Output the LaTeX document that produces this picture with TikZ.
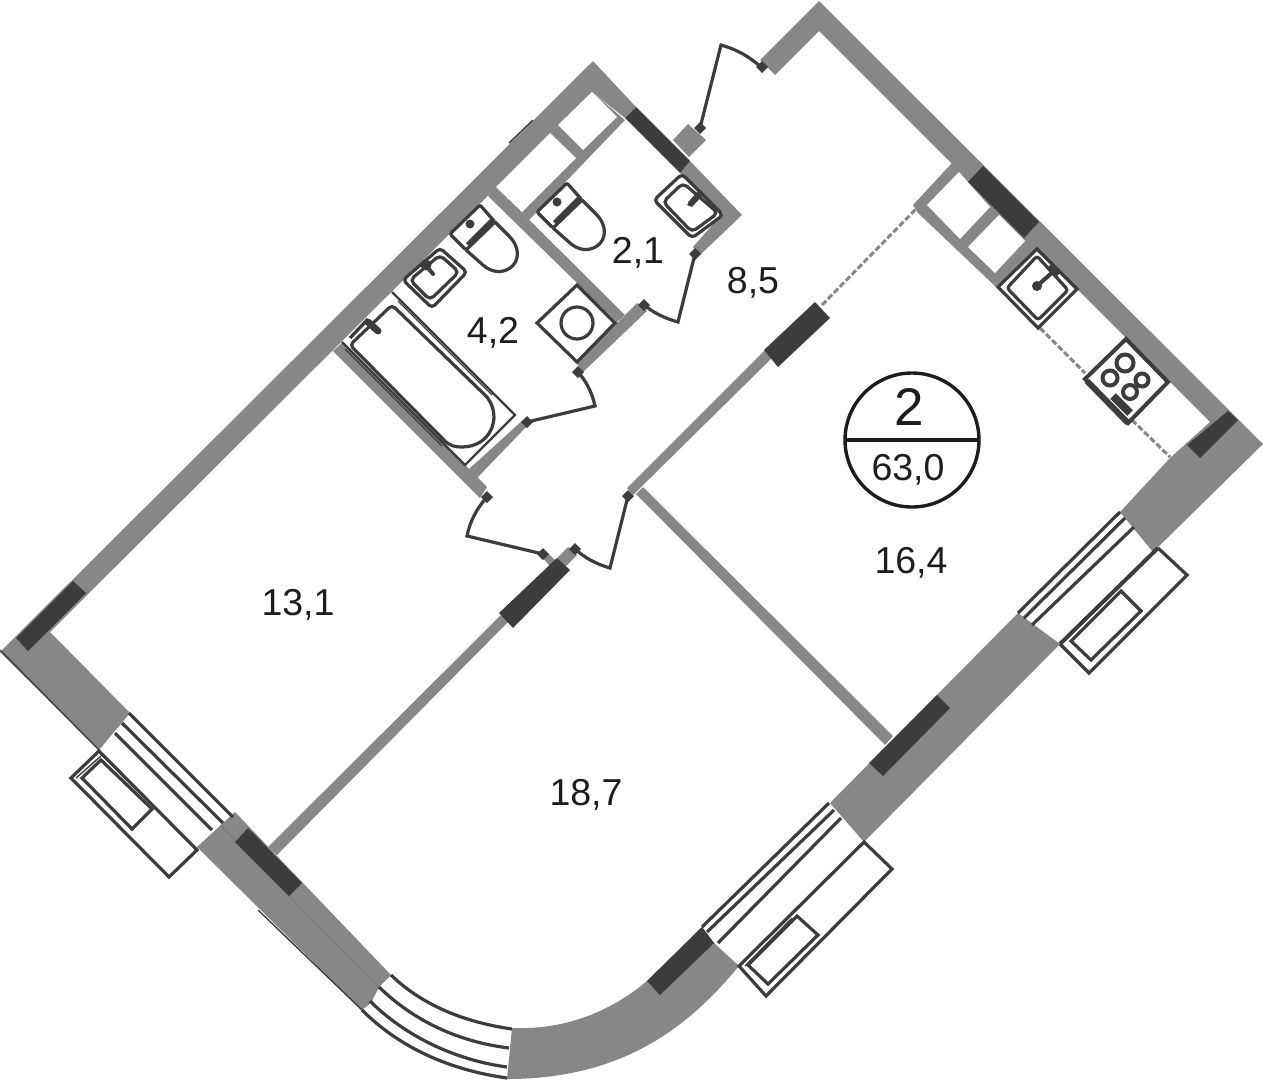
\documentclass[tikz,border=0pt]{standalone}
\usepackage{fontspec}
\setmainfont{Liberation Sans}
\usepackage{tikz}
\definecolor{wallgray}{HTML}{878786}
\definecolor{pillargray}{HTML}{3C3C3B}
\definecolor{inkblack}{HTML}{1D1D1B}
\tikzset{
	wall/.style={fill=wallgray},
	pillar/.style={fill=pillargray},
	hole/.style={fill=white},
	fixture/.style={draw=pillargray, line width=3.2pt, line join=miter},
	hairline/.style={draw=pillargray, line width=1.4pt},
	dashwall/.style={draw=wallgray, line width=3pt, dash pattern=on 6pt off 2.5pt},
	arealabel/.style={text=inkblack, anchor=base, inner sep=0pt, font=\fontsize{37.5}{40}\selectfont}
}

\begin{document}
\begin{tikzpicture}[x=1pt, y=-1pt]
		\useasboundingbox (0,0) rectangle (1263,1080);
		
		% Draw outer walls
		\fill[wall] (760,60) -- (819,1) -- (1263,444) -- (1153,552) -- (1120,512) -- (1170,458) -- (1210,422) -- (819,31) -- (775,75) -- cycle;
		\fill[wall] (0,652) -- (593,61) -- (636,107) -- (625,118) -- (592,92) -- (50,632) -- (130,713) -- (99,750) -- cycle;
		\fill[wall] (1018,613) -- (830,803) -- (864,842) -- (1060,644) -- cycle;
		\fill[wall] (714,943) -- (739,966) .. controls (690,1025) and (625,1079) .. (507,1079) -- (512,1028) .. controls (565,1030) and (610,1012) .. (647,981) -- (702,927) -- cycle;
		\fill[wall] (197,847) -- (235,812) -- (391,975) -- (379,987) -- (371,1003) -- (362,1010) -- cycle;
		\draw[draw=pillargray!25!wallgray, line width=0.6pt] (220,825) -- (378,987);
		\draw[hairline] (0,650) -- (99,750);
		\draw[hairline] (258,910) -- (362,1010);
		\draw[hairline] (509,143) -- (533,120);
		
		% Draw inner walls
		\fill[wall] (496,187) -- (592,92) -- (625,120) -- (529,220) -- cycle;
		\fill[wall] (488,196) -- (496,187) -- (625,315) -- (617,322) -- cycle;
		\fill[wall] (333,351) -- (343,342) -- (487,487) -- (480,498) -- cycle;
		\fill[wall] (468,470) -- (523,420) -- (528,425) -- (477,478) -- cycle;
		\fill[wall] (577,363) -- (637,303) -- (647,311) -- (582,373) -- cycle;
		\fill[wall] (690,161) -- (742,215) -- (700,255) -- (693,247) -- (723,213) -- (680,173) -- cycle;
		\fill[wall] (688,124) -- (706,140) -- (689,157) -- (673,140) -- cycle;
		\fill[wall] (627,488) -- (772,343) -- (782,348) -- (633,495) -- cycle;
		\fill[wall] (643,487) -- (893,736) -- (885,745) -- (636,494) -- cycle;
		\fill[wall] (505,611) -- (268,847) -- (277,855) -- (515,615) -- cycle;
		\fill[wall] (543,558) -- (548,553) -- (560,565) -- (553,570) -- cycle;
		\fill[wall] (557,558) -- (568,547) -- (577,555) -- (565,567) -- cycle;
		\fill[wall] (952,163) -- (913,205) -- (918,213) -- (997,288) -- (1000,288) -- (1040,250) -- (1028,238) -- cycle;
		
		% Shafts
		\fill[hole] (496,187) -- (550,133) -- (576,158) -- (522,212) -- cycle;
		\fill[hole] (558,125) -- (592,92) -- (617,117) -- (583,150) -- cycle;
		\fill[hole] (959,172) -- (990,207) -- (960,239) -- (927,205) -- cycle;
		\fill[hole] (999,215) -- (1025,241) -- (995,273) -- (968,247) -- cycle;
		
		% Draw load bearing pillars
		\fill[pillar] (636,107) -- (690,161) -- (680,173) -- (625,118) -- cycle;
		\fill[pillar] (983,166) -- (1039,222) -- (1024,238) -- (968,182) -- cycle;
		\fill[pillar] (1228,411) -- (1238,420) -- (1200,458) -- (1187,445) -- cycle;
		\fill[pillar] (937,695) -- (950,708) -- (883,776) -- (869,763) -- cycle;
		\fill[pillar] (702,927) -- (714,943) -- (660,995) -- (647,981) -- cycle;
		\fill[pillar] (248,828) -- (302,883) -- (289,896) -- (235,842) -- cycle;
		\fill[pillar] (73,581) -- (86,593) -- (28,651) -- (16,638) -- cycle;
		\fill[pillar] (557,558) -- (570,570) -- (513,628) -- (499,613) -- cycle;
		\fill[pillar] (815,302) -- (830,318) -- (778,367) -- (764,350) -- cycle;
		
		% Add dashed openings
		\draw[dashwall] (822,305) -- (917,208);
		\draw[dashwall] (1040,328) -- (1085,373);
		\draw[dashwall] (1132,420) -- (1170,457);
		
		% Draw doors
		\draw[fixture] (700,128) -- (721,45) .. controls (738,50) and (750,57) .. (762,68);
		\draw[fixture] (695,254) -- (678,322) .. controls (664,318) and (654,313) .. (644,305);
		\draw[fixture] (578,372) .. controls (586,381) and (592,392) .. (595,406) -- (527,422);
		\draw[fixture] (487,497) .. controls (477,508) and (470,521) .. (467,536) -- (543,554);
		\draw[fixture] (575,549) .. controls (585,558) and (596,564) .. (610,568) -- (628,496);
		\foreach \x/\y in {700/128,762/67,695/254,644/305,578/372,527/422,487/497,543/554,575/549,628/496}
		\fill[pillar, shift={(\x,\y)}] (-6,0) -- (0,-6) -- (6,0) -- (0,6) -- cycle;
		
		% Draw windows
		\draw[fixture] (1120,512) -- (1018,613);
		\draw[fixture] (1125,518) -- (1024,618);
		\draw[fixture] (1134,527) -- (1032,625);
		\draw[fixture] (829,803) -- (702,927);
		\draw[fixture] (834,810) -- (707,932);
		\draw[fixture] (841,818) -- (718,943);
		\draw[fixture] (129,713) -- (233,817);
		\draw[fixture] (122,723) -- (223,823);
		\draw[fixture] (115,733) -- (212,830);
		\draw[fixture] (391,975) .. controls (425,1008) and (470,1023) .. (512,1029);
		\draw[fixture] (379,987) .. controls (415,1022) and (460,1042) .. (509,1048);
		\draw[fixture] (370,1001) .. controls (405,1036) and (455,1060) .. (507,1067);
		\draw[fixture] (362,1010) .. controls (400,1048) and (450,1070) .. (507,1078);
		
		% Draw balconies
		\draw[fixture] (1158,548) -- (1187,575) -- (1089,673) -- (1060,644);
		\draw[fixture, line width=4pt] (1158,548) -- (1060,644);
		\draw[fixture] (1121,591) -- (1141,611) -- (1091,660) -- (1071,641) -- cycle;
		\draw[fixture] (864,842) -- (892,869) -- (766,996) -- (739,966) -- cycle;
		\draw[fixture] (797,916) -- (818,935) -- (768,984) -- (748,965) -- cycle;
		\draw[hairline] (792,918) -- (745,966);
		\draw[fixture] (99,751) -- (71,778) -- (169,877) -- (197,850) -- cycle;
		\draw[fixture] (101,760) -- (82,778) -- (132,829) -- (152,809) -- cycle;
		\draw[hairline] (101,756) -- (76,778);
		\draw[hairline] (101,754) -- (150,803);
		
		% Draw bath
		\draw[hairline, line width=2.4pt] (392,292) -- (515,415) -- (465,465) -- (342,342);
		\draw[fixture] (443,439) [rounded corners=4pt] -- (350,345) -- (392,305) [sharp corners] -- (487,397) .. controls (503,418) and (490,447) .. (462,447) .. controls (455,447) and (449,446) .. (443,439);
		\draw[hairline] (398,301) -- (492,395);
		\draw[hairline] (345,349) -- (442,446);
		\draw[pillargray, line width=7pt, line cap=round] (368,322) -- (378,331);
		\draw[pillargray, line width=3.4pt] (368,319) -- (350,338);
		
		% Draw toilets
		\foreach \dx/\dy in {0/0,-87/22}
		{
			\begin{scope}[shift={(\dx,\dy)}]
				\draw[fixture, rounded corners=2pt] (567,183) -- (537,212) -- (553,228) -- (582,200) -- cycle;
				\draw[fixture] (582,200) -- (596,214) .. controls (608,226) and (606,240) .. (597,246) .. controls (588,252) and (578,250) .. (570,243) -- (553,228);
				\draw[pillargray, line width=5.5pt] (580,198) -- (555,223);
				\fill[pillar] (557,202) circle (4.5pt);
			\end{scope}
		}
		
		% Draw sinks
		\draw[fixture, rounded corners=4pt] (682,174) -- (723,215) -- (692,238) -- (654,200) -- cycle;
		\draw[fixture, rounded corners=5pt] (683,183) -- (718,213) -- (692,232) -- (663,202) -- cycle;
		\draw[pillargray, line width=4pt, line cap=round] (700,192) -- (690,203);
		\fill[pillar] (690,201) -- (700,190) -- (704,194) -- (692,207) -- (687,205) -- cycle;
		\draw[fixture, rounded corners=4pt] (440,248) -- (467,272) -- (432,308) -- (403,280) -- cycle;
		\draw[fixture, rounded corners=5pt] (440,255) -- (459,272) -- (430,300) -- (410,280) -- cycle;
		\draw[pillargray, line width=4pt, line cap=round] (424,263) -- (433,274);
		\fill[pillar] (426,265) circle (5.5pt);
		\draw[fixture, fill=white] (1037,249) -- (1077,289) -- (1038,328) -- (998,287) -- cycle;
		\draw[fixture, rounded corners=3pt] (1037,256) -- (1068,290) -- (1038,320) -- (1007,288) -- cycle;
		\draw[pillargray, line width=4pt] (1055,270) -- (1037,286);
		\draw[pillargray, line width=4pt] (1049,266) -- (1058,275);
		\fill[pillar] (1037,286) circle (5pt);
		
		% Draw washing machine
		\draw[fixture] (577,285) -- (615,323) -- (577,362) -- (537,323) -- cycle;
		\draw[fixture] (577,323) circle (16pt);
		
		% Draw stove
		\draw[fixture, line width=4pt, fill=white] (1126,339) -- (1168,382) -- (1128,423) -- (1085,379) -- cycle;
		\draw[pillargray, line width=6pt] (1087,381) -- (1128,423);
		\draw[pillargray, line width=8pt] (1113,396) -- (1130,413);
		\foreach \x/\y/\r in {1125/363/8.5,1110/378/7.5,1142/380/6.5,1130/392/7}
		\draw[fixture, line width=4pt] (\x,\y) circle (\r pt);
		
		% Area labels
		\node[arealabel] (areaWC) at (638,263) {2,1};
		\node[arealabel] (areaHall) at (753,293) {8,5};
		\node[arealabel] (areaBath) at (493,343) {4,2};
		\node[arealabel] (areaBedroom) at (298,615) {13,1};
		\node[arealabel] (areaLiving) at (586,805) {18,7};
		\node[arealabel] (areaKitchen) at (911,573) {16,4};
		
		% Apartment badge
		\draw[draw=inkblack, line width=3.4pt] (912,440) circle (67pt);
		\draw[draw=inkblack, line width=3.4pt] (845,440) -- (979,440);
		\node[arealabel, font=\fontsize{53}{56}\selectfont] (rooms) at (909,425) {2};
		\node[arealabel] (total) at (908,480) {63,0};
		
	\end{tikzpicture}
\end{document}
